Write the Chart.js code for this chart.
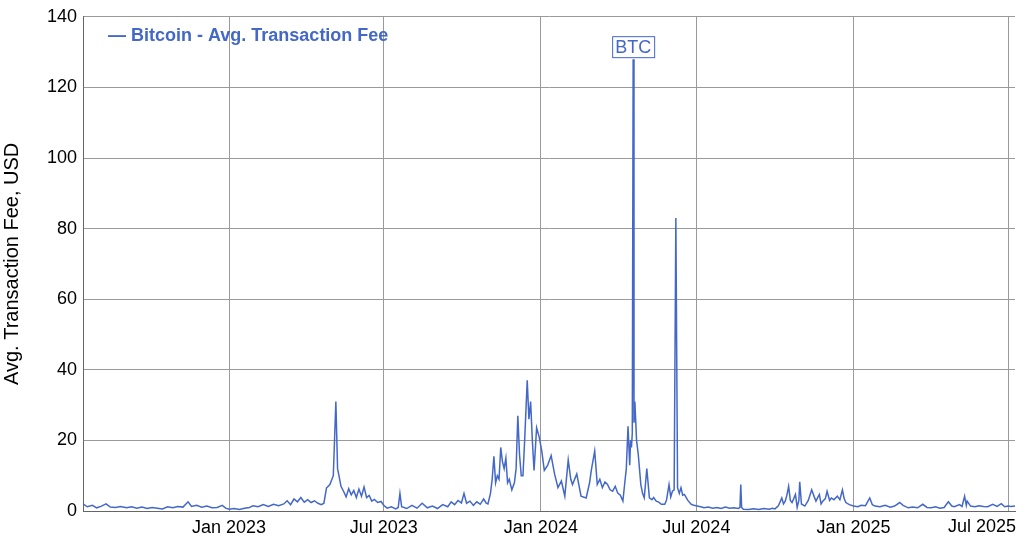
<!DOCTYPE html>
<html>
<head>
<meta charset="utf-8">
<script src="https://cdn.jsdelivr.net/npm/chart.js@4/dist/chart.umd.min.js"></script>
<style>
  html, body { margin: 0; padding: 0; background: #fff; }
  #wrap { width: 1024px; height: 543px; }
</style>
</head>
<body>
<div id="wrap"><canvas id="feeChart" width="1024" height="543"></canvas></div>
<script>
// day offsets from 1 Jan 2023, and average fee in USD
const days = [-171,-166,-160,-155,-150,-144,-139,-133,-127,-120,-114,-108,-102,-96,-90,-84,-78,-72,-66,-60,-54,-48,-44,-38,-32,-26,-20,-14,-8,-4,
  0,6,12,18,24,28,34,40,46,52,58,64,68,72,76,80,84,88,92,96,100,104,108,111,114,118,122,125,127,129,131,134,137,140,143,146,149,152,155,158,161,164,167,170,174,178,
  181,185,190,195,198,200,202,208,214,220,226,232,238,244,250,256,260,264,268,272,275,278,282,286,290,294,298,301,303,306,308,310,312,314,316,318,320,322,324,326,328,331,334,336,338,340,342,344,346,349,351,353,355,357,360,363,
  366,369,373,377,381,385,389,393,397,400,402,407,412,418,422,424,428,431,434,437,440,443,446,449,452,455,458,461,463,465,467,469,470,471,472,473,474,475,476,477,479,482,484,486,489,492,495,497,500,503,506,510,512,515,517,519,521,523,525,527,529,531,533,537,541,544,
  548,552,556,561,566,571,576,581,586,591,596,598,599,600,602,608,614,620,626,632,636,639,643,647,649,651,653,655,657,659,661,663,665,667,668,670,674,678,682,685,687,689,691,693,695,698,700,703,705,708,712,715,718,720,722,726,
  731,736,740,745,750,753,756,762,768,774,779,785,789,795,800,806,812,817,822,827,832,837,842,846,849,855,858,861,863,864,868,873,878,883,888,894,899,904,908,912,915,920];
const fees = [2.0,1.2,1.6,0.9,1.3,2.0,1.1,1.0,1.3,0.9,1.2,0.8,1.1,0.7,1.0,0.8,0.6,1.2,0.9,1.3,1.1,2.6,1.3,1.6,1.1,1.4,0.9,1.0,1.6,0.8,
  0.5,0.7,0.4,0.8,1.0,1.5,1.2,1.8,1.3,1.9,1.5,2.0,2.9,1.8,3.4,2.6,3.8,2.5,3.2,2.4,2.9,2.2,1.8,2.2,6.5,7.5,10,31,12,9.5,7,5.6,4.0,6.3,4.6,5.8,3.8,6.2,4.2,6.8,3.8,4.4,2.8,3.3,2.4,2.7,
  1.6,0.8,1.2,0.6,1.0,5.0,1.2,0.7,1.6,0.8,2.2,0.9,1.4,0.7,1.8,1.2,2.6,1.8,3.0,2.3,5.0,2.2,2.8,1.6,2.6,1.9,3.4,2.2,2.0,5,9,15.5,8,10,9,18,14,12,15,8,9,6,8,12,27,16,10,10,20,37,26,31,20,11.5,23.6,21,
  17,11.5,13,15.7,10.5,6.6,8.5,4.2,14.5,9,7.5,10.5,4.2,3.7,8,11.5,17,7.5,9,6.6,8.2,7.5,6,5.6,7,5.1,4.5,2.8,7.5,12,24,13,20,18,22,128,25,31,25.6,20,16,7.5,5,3.7,12,3.7,3.2,3.8,2.8,2.5,1.9,1.9,3,7.5,4,5.6,6,83,6.6,5,6.6,4.5,4.7,3,1.9,1.6,
  1.4,1.2,0.9,1.1,0.8,1.0,0.7,1.1,0.8,0.9,0.7,1,7.5,1,0.5,0.4,0.6,0.4,0.7,0.5,0.8,0.6,1.5,3.7,2.0,2.8,4.5,7,3,2.4,3.5,4.7,1,3,8.3,2,1.4,3,6,4,2.8,3.8,4.7,2,2.8,3.5,5.6,3,3.7,3.2,4.2,3.2,6,3.5,2.4,1.8,
  1.4,1.2,1.6,1.5,3.7,1.8,1.4,1.2,1.6,1.1,1.4,2.4,1.6,0.9,1.1,0.9,1.9,1.0,0.9,1.2,0.8,1.0,2.6,1.4,1.2,1.8,1.3,4.2,1.6,2.8,1.4,1.2,1.5,1.3,1.2,1.9,1.3,2.1,1.2,1.4,1.3,1.4];
const tickDays = [0, 181, 365, 547, 731, 912];
const tickLabels = ['Jan 2023', 'Jul 2023', 'Jan 2024', 'Jul 2024', 'Jan 2025', 'Jul 2025'];
const yTicks = [0, 20, 40, 60, 80, 100, 120, 140];

const blue = '#4468c8';
const gridGrey = '#9a9a9a';
const font18 = '18px "Liberation Sans", Arial, sans-serif';

// legend inside the plot, BTC label above the highest point, last x label pulled inside
const overlay = {
  id: 'overlay',
  afterDraw(chart) {
    const { ctx, chartArea, scales } = chart;
    ctx.save();
    ctx.fillStyle = blue;
    ctx.font = 'bold ' + font18;
    ctx.textBaseline = 'middle';
    ctx.fillText('\u2014 Bitcoin - Avg. Transaction Fee', chartArea.left + 25, chartArea.top + 19);

    const i = fees.indexOf(Math.max(...fees));
    const px = scales.x.getPixelForValue(days[i]);
    const py = scales.y.getPixelForValue(fees[i]);
    ctx.font = font18;
    const w = ctx.measureText('BTC').width + 6;
    const h = 21;
    ctx.fillStyle = '#fff';
    ctx.fillRect(px - w / 2, py - h - 2, w, h);
    ctx.strokeStyle = blue;
    ctx.lineWidth = 1;
    ctx.strokeRect(px - w / 2 + 0.5, py - h - 1.5, w, h);
    ctx.fillStyle = blue;
    ctx.textAlign = 'center';
    ctx.fillText('BTC', px, py - h / 2 - 1);

    ctx.fillStyle = '#000';
    ctx.textAlign = 'right';
    ctx.fillText(tickLabels[tickLabels.length - 1], chart.width - 8, chartArea.bottom + 16);
    ctx.restore();
  }
};

new Chart(document.getElementById('feeChart'), {
  type: 'line',
  data: {
    datasets: [{
      label: 'Bitcoin - Avg. Transaction Fee',
      data: days.map((d, i) => ({ x: d, y: fees[i] })),
      borderColor: blue,
      borderWidth: 1.5,
      pointRadius: 0,
      tension: 0
    }]
  },
  options: {
    responsive: false,
    animation: false,
    layout: { padding: { top: 13, right: 9, left: 0, bottom: 0 } },
    plugins: { legend: { display: false }, tooltip: { enabled: false } },
    scales: {
      x: {
        type: 'linear',
        min: -171,
        max: 920,
        afterBuildTicks: (axis) => { axis.ticks = tickDays.map(v => ({ value: v })); },
        afterFit: (axis) => { axis.paddingRight = 0; axis.paddingLeft = 0; axis.height = 32; },
        ticks: {
          // the last label is drawn by the overlay so it can sit inside the canvas
          callback: (v) => { const k = tickDays.indexOf(v); return k === tickDays.length - 1 ? '' : tickLabels[k]; },
          color: '#000',
          font: { size: 18, family: '"Liberation Sans", Arial, sans-serif' },
          maxRotation: 0,
          autoSkip: false,
          padding: 6
        },
        grid: { color: gridGrey, drawTicks: false },
        border: { color: '#666' }
      },
      y: {
        min: 0,
        max: 140,
        afterBuildTicks: (axis) => { axis.ticks = yTicks.map(v => ({ value: v })); },
        afterFit: (axis) => { axis.width = 83; },
        ticks: {
          color: '#000',
          font: { size: 18, family: '"Liberation Sans", Arial, sans-serif' },
          padding: 6
        },
        grid: { color: gridGrey, drawTicks: false },
        border: { color: '#666' },
        title: {
          display: true,
          text: 'Avg. Transaction Fee, USD',
          color: '#000',
          font: { size: 20, family: '"Liberation Sans", Arial, sans-serif' },
          padding: { top: 0, bottom: 4 }
        }
      }
    }
  },
  plugins: [overlay]
});
</script>
</body>
</html>
